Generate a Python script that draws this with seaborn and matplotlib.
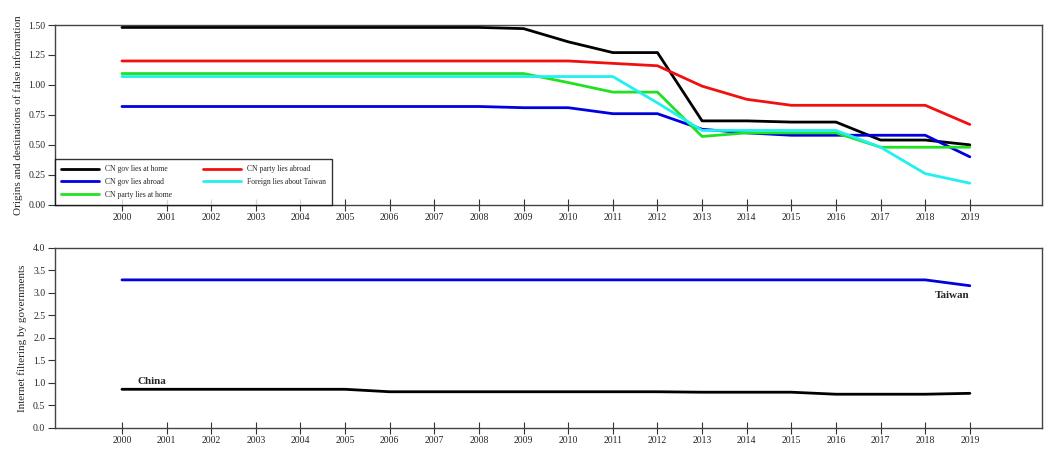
import pandas as pd
import seaborn as sns
import matplotlib.pyplot as plt

sns.set_theme(style="white")
plt.rcParams['font.family'] = ['Liberation Serif', 'DejaVu Serif']

years = list(range(2000, 2020))

gov_home = [1.48, 1.48, 1.48, 1.48, 1.48, 1.48, 1.48, 1.48, 1.48, 1.47,
            1.36, 1.27, 1.27, 0.70, 0.70, 0.69, 0.69, 0.54, 0.54, 0.50]
gov_abroad = [0.82, 0.82, 0.82, 0.82, 0.82, 0.82, 0.82, 0.82, 0.82, 0.81,
              0.81, 0.76, 0.76, 0.63, 0.60, 0.58, 0.58, 0.58, 0.58, 0.40]
party_home = [1.095, 1.095, 1.095, 1.095, 1.095, 1.095, 1.095, 1.095, 1.095, 1.095,
              1.02, 0.94, 0.94, 0.57, 0.60, 0.60, 0.60, 0.48, 0.48, 0.48]
party_abroad = [1.20, 1.20, 1.20, 1.20, 1.20, 1.20, 1.20, 1.20, 1.20, 1.20,
                1.20, 1.18, 1.16, 0.99, 0.88, 0.83, 0.83, 0.83, 0.83, 0.67]
foreign_taiwan = [1.07, 1.07, 1.07, 1.07, 1.07, 1.07, 1.07, 1.07, 1.07, 1.07,
                  1.07, 1.07, 0.85, 0.62, 0.62, 0.62, 0.62, 0.48, 0.26, 0.18]

china_filter = [0.855, 0.855, 0.855, 0.855, 0.855, 0.855, 0.80, 0.80, 0.80, 0.80,
                0.80, 0.80, 0.80, 0.79, 0.79, 0.79, 0.745, 0.745, 0.745, 0.765]
taiwan_filter = [3.29, 3.29, 3.29, 3.29, 3.29, 3.29, 3.29, 3.29, 3.29, 3.29,
                 3.29, 3.29, 3.29, 3.29, 3.29, 3.29, 3.29, 3.29, 3.29, 3.16]

top_series = [("CN gov lies at home", gov_home, "#000000"),
              ("CN gov lies abroad", gov_abroad, "#0000e0"),
              ("CN party lies at home", party_home, "#22e022"),
              ("CN party lies abroad", party_abroad, "#f01010"),
              ("Foreign lies about Taiwan", foreign_taiwan, "#22f0f0")]

fig = plt.figure(figsize=(10.58, 4.55), dpi=100)
ax1 = fig.add_axes([0.052, 0.550, 0.933, 0.395])
ax2 = fig.add_axes([0.052, 0.060, 0.933, 0.395])

for name, vals, col in top_series:
    df = pd.DataFrame({"year": years, "value": vals})
    sns.lineplot(data=df, x="year", y="value", ax=ax1, color=col, lw=2.0, label=name)

sns.lineplot(x=years, y=taiwan_filter, ax=ax2, color="#0000e0", lw=2.0)
sns.lineplot(x=years, y=china_filter, ax=ax2, color="#000000", lw=2.0)
ax2.text(2000.35, 0.92, "China", fontsize=8, fontweight="bold", ha="left", va="bottom")
ax2.text(2019, 3.05, "Taiwan", fontsize=8, fontweight="bold", ha="right", va="top")

for ax in (ax1, ax2):
    ax.set_xlim(1998.5, 2020.62)
    ax.set_xticks(years)
    ax.set_xticklabels([str(y) for y in years], fontsize=7)
    ax.set_xlabel("")
    ax.tick_params(axis="x", direction="inout", length=8, width=0.8, color="#333333",
                   pad=2, bottom=True)
    ax.tick_params(axis="y", direction="out", length=5, width=0.8, color="#333333",
                   labelsize=7, pad=2, left=True)
    for s in ax.spines.values():
        s.set_color("#444444")
        s.set_linewidth(1.0)

ax1.set_ylim(0, 1.5)
ax1.set_yticks([0, 0.25, 0.5, 0.75, 1.0, 1.25, 1.5])
ax1.set_yticklabels(["0.00", "0.25", "0.50", "0.75", "1.00", "1.25", "1.50"])
ax1.set_ylabel("Origins and destinations of false information", fontsize=8)

ax2.set_ylim(0, 4.0)
ax2.set_yticks([0, 0.5, 1, 1.5, 2, 2.5, 3, 3.5, 4])
ax2.set_yticklabels(["0.0", "0.5", "1.0", "1.5", "2.0", "2.5", "3.0", "3.5", "4.0"])
ax2.set_ylabel("Internet filtering by governments", fontsize=8)

leg = ax1.legend(loc="lower left", ncol=2, fontsize=5.5, frameon=True, fancybox=False,
                 edgecolor="black", borderaxespad=0, handlelength=5, columnspacing=4,
                 borderpad=0.8, labelspacing=0.6)
leg.get_frame().set_linewidth(1.0)

fig.savefig("out.png", dpi=100)
